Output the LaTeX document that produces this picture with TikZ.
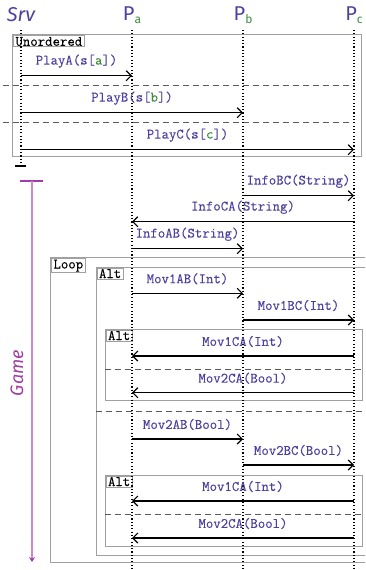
\documentclass[tikz,border=0pt]{standalone}
\usepackage{fontspec}
\setsansfont{Fira Sans}
\newfontfamily\msgtt{Latin Modern Mono}[FakeBold=0.2]
\usetikzlibrary{arrows.meta}

\definecolor{msgblue}{RGB}{75,65,160}
\definecolor{idxgreen}{RGB}{60,140,60}
\definecolor{framegray}{RGB}{160,160,160}
\definecolor{sepgray}{RGB}{90,90,90}
\definecolor{gamepurple}{RGB}{160,60,165}
\definecolor{gameline}{RGB}{200,140,205}

% green role index inside a label
\newcommand\idx[1]{\textcolor{idxgreen}{#1}}
% subscripted participant name
\newcommand\role[1]{P\textcolor{idxgreen}{\raisebox{-3bp}{\fontsize{12bp}{12bp}\selectfont #1}}}
% message arrow between two lifelines at height #3
\newcommand\sendmsg[4]{\draw[msg] (#1 |- 0,#3) -- node[msglabel, yshift=14.5bp]{#4} (#2 |- 0,#3);}

\begin{document}
\begin{tikzpicture}[x=1bp,y=-1bp,
  head/.style={font=\sffamily\fontsize{20bp}{22bp}\selectfont, text=msgblue, inner sep=0pt},
  lifeline/.style={line width=1.1bp, dash pattern=on 1.1bp off 2.2bp},
  msg/.style={line width=1.2bp, -{Straight Barb[length=5bp,width=10bp,line width=1.2bp]}},
  msglabel/.style={font=\msgtt\fontsize{14.4bp}{16bp}\selectfont, text=msgblue, inner sep=0pt},
  frame/.style={draw=framegray, line width=1bp},
  framelabel/.style={draw=framegray, line width=1bp, fill=white,
    font=\msgtt\fontsize{14.4bp}{16bp}\selectfont, inner xsep=2bp, inner ysep=1bp, anchor=north west},
  separator/.style={draw=sepgray, line width=1bp, dash pattern=on 6bp off 4bp},
]
\clip (0,0) rectangle (365,570);

% participants
\node[head] (srvhead) at (21,15) {\itshape Srv};
\node[head] (pahead) at (132,15) {\role{a}};
\node[head] (pbhead) at (243,15) {\role{b}};
\node[head] (pchead) at (354,15) {\role{c}};
\coordinate (srv) at (21,30);
\coordinate (pa) at (132,30);
\coordinate (pb) at (243,30);
\coordinate (pc) at (354,30);
\coordinate (srvend) at (21,163);
\coordinate (paend) at (132,572);
\coordinate (pbend) at (243,572);
\coordinate (pcend) at (354,572);

% combined fragments
\draw[frame] (12.7,35) rectangle (361.7,156.7);
\draw[separator] (3,85.7) -- (355,85.7);
\draw[separator] (3,122.7) -- (355,122.7);
\node[framelabel] (unordered) at (13,35.5) {Unordered};

\draw[frame] (50.5,257.7) rectangle (380,562);
\node[framelabel] (loop) at (51,258.2) {Loop};

\draw[frame] (96,267) rectangle (380,555);
\draw[separator] (96,411) -- (380,411);
\node[framelabel] (alt) at (96.5,267.5) {Alt};

\draw[frame] (105,329) rectangle (362,400);
\draw[separator] (105,369) -- (362,369);
\node[framelabel] (altone) at (105.5,329.5) {Alt};

\draw[frame] (105,475) rectangle (362,546);
\draw[separator] (105,514) -- (362,514);
\node[framelabel] (alttwo) at (105.5,475.5) {Alt};

% lifelines
\draw[lifeline] (srv) -- (srvend);
\draw[line width=1.2bp] (15,166) -- (26,166);
\draw[lifeline] (pa) -- (paend);
\draw[lifeline] (pb) -- (pbend);
\draw[lifeline] (pc) -- (pcend);

% game phase marker
\coordinate (gametop) at (32,181);
\coordinate (gameend) at (32,562);
\draw[gamepurple, line width=1.5bp] (20,181) -- (43,181);
\draw[gameline, line width=2bp, -{Stealth[length=5bp,width=6bp,color=gamepurple]}] (gametop) -- (gameend);
\node[font=\sffamily\itshape\fontsize{18bp}{20bp}\selectfont, text=gamepurple, rotate=90, inner sep=0pt] (gamelabel) at (17,373) {Game};

% messages
\sendmsg{srv}{pa}{75.7}{PlayA(s[\idx{a}])}
\sendmsg{srv}{pb}{112.7}{PlayB(s[\idx{b}])}
\sendmsg{srv}{pc}{149.7}{PlayC(s[\idx{c}])}
\sendmsg{pb}{pc}{195.7}{InfoBC(String)}
\sendmsg{pc}{pa}{221.7}{InfoCA(String)}
\sendmsg{pa}{pb}{248.7}{InfoAB(String)}
\sendmsg{pa}{pb}{293.3}{Mov1AB(Int)}
\sendmsg{pb}{pc}{320}{Mov1BC(Int)}
\sendmsg{pc}{pa}{356}{Mov1CA(Int)}
\sendmsg{pc}{pa}{392.7}{Mov2CA(Bool)}
\sendmsg{pa}{pb}{439}{Mov2AB(Bool)}
\sendmsg{pb}{pc}{465}{Mov2BC(Bool)}
\sendmsg{pc}{pa}{501}{Mov1CA(Int)}
\sendmsg{pc}{pa}{538}{Mov2CA(Bool)}
\end{tikzpicture}
\end{document}
